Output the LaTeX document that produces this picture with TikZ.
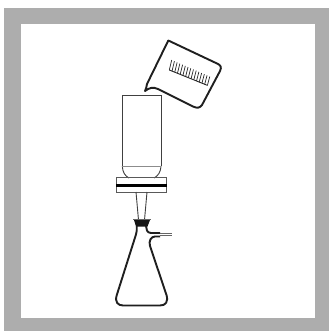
\documentclass[tikz,border=0pt]{standalone}
\tikzset{
  gl/.style={draw=black!88,line width=1.9pt,line join=round},
  thin glass/.style={draw=black!75,line width=0.9pt},
  grayline/.style={draw=black!45,line width=1.1pt}
}
\begin{document}
\begin{tikzpicture}[x=1pt,y=-1pt]
\useasboundingbox (0,0) rectangle (329,331);
\fill[white] (0,0) rectangle (329,331);
\fill[black!32] (4,8) rectangle (329,331);
\fill[white] (21,24) rectangle (315,318);
% cylinder
\draw[thin glass] (122.3,166) -- (122.3,95.7) -- (161,95.7) -- (161,166);
\draw[thin glass] (122.3,166) .. controls (122.5,172) and (125,176) .. (129,178);
\draw[thin glass] (161,166) .. controls (160.8,172) and (158,176) .. (154,178);
\draw[grayline] (122.3,166.7) -- (161,166.7);
\draw[grayline] (126,177.3) -- (157,177.3);
% plate
\draw[draw=black!65,line width=1pt] (116,177.7) rectangle (166.7,192);
\draw[black,line width=2.2pt] (116,185.5) -- (166.7,185.5);
% stem
\draw[thin glass] (136,192) -- (138.5,220);
\draw[thin glass] (147,192) -- (144.5,220);
% stopper
\draw[draw=black!60,line width=1pt] (133,219.7) -- (151,219.7);
\fill[black!92] (134,220) -- (150,220) -- (147.5,226.5) -- (136,226.5) -- cycle;
% flask
\draw[gl] (136.8,226) .. controls (137,229) and (136.8,232) .. (135.5,236)
  -- (116.8,295) .. controls (114.5,302) and (118,305.5) .. (123,305.5)
  -- (160,305.5) .. controls (165.5,305.5) and (168.5,302) .. (166.5,295)
  -- (150,246) .. controls (148.5,241) and (151,236.5) .. (155,236.5) -- (160,236.5);
\draw[gl] (146,226) .. controls (146,229) and (147,233) .. (151,233) -- (160,233);
\draw[draw=black!60,line width=0.8pt] (159.5,233.3) -- (172,233.3);
\draw[draw=black!60,line width=0.8pt] (159.5,235.6) -- (172,235.6);
% beaker
\draw[gl] (168.3,40.5) -- (147,84) .. controls (146.5,87) and (146,89) .. (145,91)
  .. controls (149,88) and (153,86.5) .. (158,89)
  -- (193,106.5) .. controls (197,108.5) and (200,108) .. (202,105)
  -- (220,71) .. controls (222,67) and (220.5,65) .. (217,63.5) -- (168.3,40.5) -- cycle;
% scale
\foreach \i in {0,...,14} {
  \draw[black!85,line width=0.7pt] ({171.7+\i*2.72},{60+\i*1.18}) -- ({169.3+\i*2.72},{70+\i*1.1});
}
\draw[black!85,line width=0.9pt] (169.3,70) -- (207.5,85.4);
\end{tikzpicture}
\end{document}
